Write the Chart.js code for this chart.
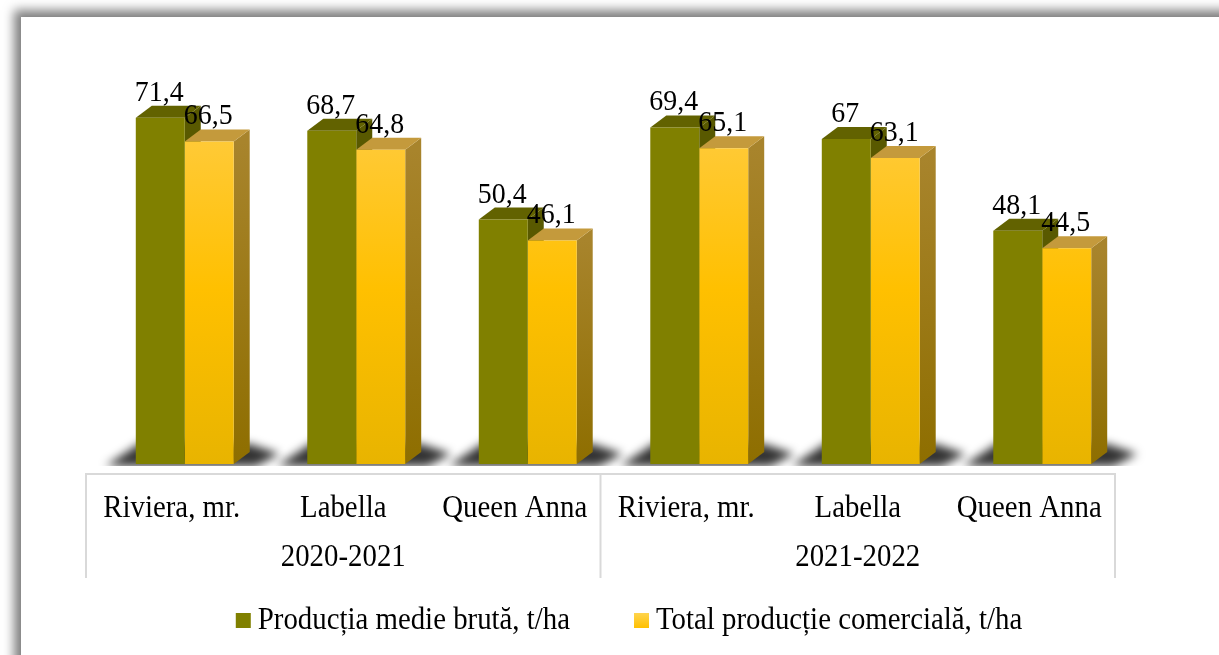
<!DOCTYPE html>
<html>
<head>
<meta charset="utf-8">
<script src="https://cdn.jsdelivr.net/npm/chart.js@4.4.1/dist/chart.umd.min.js"></script>
<style>
  html, body { margin: 0; padding: 0; background: #ffffff; overflow: hidden; width: 1219px; height: 655px; }
  #frame { position: absolute; left: 21px; top: 17px; width: 1400px; height: 900px; background: #ffffff;
           box-shadow: -3px -3px 10px 4px rgba(0,0,0,0.5); }
  #wrap { position: absolute; left: 0; top: 0; width: 1219px; height: 655px; }
</style>
</head>
<body>
<div id="frame"></div>
<div id="wrap"><canvas id="c" width="1219" height="655"></canvas></div>
<script>
// ---- data ----
const categories = ['Riviera, mr.', 'Labella', 'Queen Anna', 'Riviera, mr.', 'Labella', 'Queen Anna'];
const groups = ['2020-2021', '2021-2022'];
const groupSize = 3;
const seriesNames = ['Producția medie brută, t/ha', 'Total producție comercială, t/ha'];
const productiaBruta = [71.4, 68.7, 50.4, 69.4, 67, 48.1];
const productieComerciala = [66.5, 64.8, 46.1, 65.1, 63.1, 44.5];

// ---- style constants ----
const SHIFT = 13, DX = 16, DY = 12;
const FONT = '"Liberation Serif", "Times New Roman", serif';
const SX = 0.93; // slight horizontal condensing of text

function fmt(v) { return String(v).replace('.', ','); }

function text(c, t, x, y, align) {
  c.save();
  c.translate(x, y);
  c.scale(SX, 1);
  c.textAlign = align || 'center';
  c.fillText(t, 0, 0);
  c.restore();
}

function yellowGrad(c, top, bottom) {
  const g = c.createLinearGradient(0, top, 0, bottom);
  g.addColorStop(0, '#FFCE4E');
  g.addColorStop(0.55, '#FFC000');
  g.addColorStop(1, '#E8B400');
  return g;
}

const threeD = {
  id: 'threeD',
  beforeDatasetsDraw(chart) {
    const c = chart.ctx;
    const m0 = chart.getDatasetMeta(0).data, m1 = chart.getDatasetMeta(1).data;
    // floor shadows
    for (let i = 0; i < m0.length; i++) {
      const g = m0[i], y = m1[i];
      const L = g.x - g.width / 2, R = y.x + y.width / 2, B = g.base;
      c.save();
      c.beginPath();
      c.rect(L - 60, B - 60, R - L + 120, 62);
      c.clip();
      c.filter = 'blur(5px)';
      c.fillStyle = 'rgba(0,0,0,0.8)';
      c.beginPath();
      c.moveTo(L - 30, B + 2);
      c.lineTo(L + 6, B - 22);
      c.lineTo(R + DX, B - DY - 8);
      c.lineTo(R + DX + 30, B - 10);
      c.lineTo(R + DX + 6, B + 2);
      c.closePath();
      c.fill();
      c.restore();
    }
    // top and side faces
    const tops = ['#626200', '#C49A3C'];
    for (let i = 0; i < m0.length; i++) {
      [m0[i], m1[i]].forEach((el, d) => {
        const L = el.x - el.width / 2, R = el.x + el.width / 2, T = el.y, B = el.base;
        c.save();
        if (d === 0) {
          c.fillStyle = '#595900';
        } else {
          const sg = c.createLinearGradient(0, T, 0, B);
          sg.addColorStop(0, '#A8842C');
          sg.addColorStop(1, '#8E6E00');
          c.fillStyle = sg;
        }
        c.beginPath();
        c.moveTo(R, T); c.lineTo(R + DX, T - DY); c.lineTo(R + DX, B - DY); c.lineTo(R, B);
        c.closePath(); c.fill();
        c.fillStyle = tops[d];
        c.beginPath();
        c.moveTo(L, T); c.lineTo(L + DX, T - DY); c.lineTo(R + DX, T - DY); c.lineTo(R, T);
        c.closePath(); c.fill();
        c.restore();
      });
    }
  },
  afterDatasetsDraw(chart) {
    const c = chart.ctx;
    c.save();
    c.fillStyle = '#000';
    c.font = '30px ' + FONT;
    c.textBaseline = 'alphabetic';
    chart.data.datasets.forEach((ds, d) => {
      chart.getDatasetMeta(d).data.forEach((el, i) => {
        text(c, fmt(ds.data[i]), el.x - 1, el.y - DY - 5, 'center');
      });
    });
    c.restore();
  },
  afterDraw(chart) {
    const c = chart.ctx;
    const xs = chart.scales.x;
    const B = chart.chartArea.bottom;
    const n = categories.length;
    const cw = xs.width / n;
    const left = xs.left - SHIFT;
    c.save();
    // table lines
    c.strokeStyle = '#D9D9D9';
    c.lineWidth = 2;
    c.beginPath();
    c.moveTo(left - 1, B + 10); c.lineTo(left + cw * n + 1, B + 10);
    for (let k = 0; k <= n; k += groupSize) {
      const x = left + cw * k;
      c.moveTo(x, B + 10); c.lineTo(x, B + 114);
    }
    c.stroke();
    // category & group labels
    c.fillStyle = '#000';
    c.font = '31px ' + FONT;
    c.textBaseline = 'middle';
    categories.forEach((lab, i) => {
      text(c, lab, xs.getPixelForValue(i) - SHIFT, B + 45, 'center');
    });
    groups.forEach((g, k) => {
      const x = left + cw * (k * groupSize + groupSize / 2);
      text(c, g, x, B + 94, 'center');
    });
    // legend
    const box = 15, gapBT = 7, gapItems = 64;
    const w0 = c.measureText(seriesNames[0]).width * SX, w1 = c.measureText(seriesNames[1]).width * SX;
    const total = box + gapBT + w0 + gapItems + box + gapBT + w1;
    let x = 629 - total / 2;
    const ly = B + 157;
    c.fillStyle = '#808000';
    c.fillRect(x, ly - 8, box, box);
    c.fillStyle = '#000';
    text(c, seriesNames[0], x + box + gapBT, ly, 'left');
    x += box + gapBT + w0 + gapItems;
    const lg = c.createLinearGradient(0, ly - 8, 0, ly + 7);
    lg.addColorStop(0, '#FFD44E'); lg.addColorStop(1, '#FFC000');
    c.fillStyle = lg;
    c.fillRect(x, ly - 8, box, box);
    c.fillStyle = '#000';
    text(c, seriesNames[1], x + box + gapBT, ly, 'left');
    c.restore();
  }
};

new Chart(document.getElementById('c'), {
  type: 'bar',
  data: {
    labels: categories,
    datasets: [
      { label: seriesNames[0], data: productiaBruta, backgroundColor: '#808000', borderWidth: 0 },
      { label: seriesNames[1], data: productieComerciala, borderWidth: 0,
        backgroundColor(ctx) {
          const ca = ctx.chart.chartArea;
          if (!ca) return '#FFC000';
          return yellowGrad(ctx.chart.ctx, ca.top, ca.bottom);
        } }
    ]
  },
  options: {
    responsive: false,
    devicePixelRatio: 1,
    animation: false,
    layout: { padding: { left: 86 + SHIFT, right: 1219 - 1115 - SHIFT, top: 76, bottom: 191 } },
    datasets: { bar: { categoryPercentage: 0.571, barPercentage: 1 } },
    scales: {
      x: { display: false, offset: true },
      y: { display: false, min: 0, max: 80 }
    },
    plugins: { legend: { display: false }, tooltip: { enabled: false } }
  },
  plugins: [threeD]
});
</script>
</body>
</html>
